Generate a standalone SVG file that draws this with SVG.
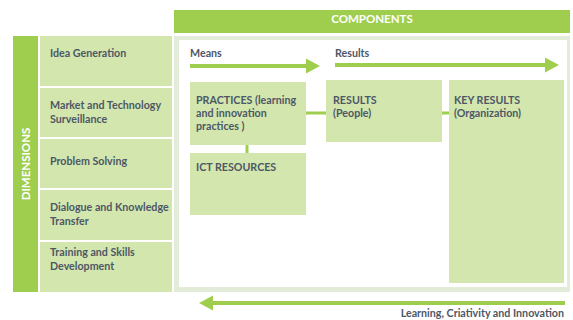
<svg xmlns="http://www.w3.org/2000/svg" width="573" height="320" viewBox="0 0 573 320">
  <defs>
    <style>
      .bar { fill: #9fce4f; }
      .cell { fill: #d3e6ae; }
      .lbl { font-family: Lato, "Open Sans", "Liberation Sans", sans-serif; font-weight: bold; font-size: 10.7px; fill: #4d5766; }
      .hdr { font-family: Lato, "Open Sans", "Liberation Sans", sans-serif; font-weight: bold; font-size: 11.5px; fill: #ffffff; }
      .link { stroke: #9fce4f; stroke-width: 3; fill: none; }
      .flow { stroke: #9fce4f; stroke-width: 4; fill: none; }
    </style>
  </defs>
  <rect width="573" height="320" fill="#ffffff"/>

  <!-- Components header -->
  <g id="components-header">
    <rect class="bar" x="174" y="10" width="396" height="23"/>
    <text class="hdr" x="372" y="22.5" text-anchor="middle">COMPONENTS</text>
  </g>

  <!-- Dimensions header -->
  <g id="dimensions-header">
    <rect class="bar" x="13" y="36" width="25" height="256"/>
    <text class="hdr" transform="translate(29.5 164) rotate(-90)" text-anchor="middle">DIMENSIONS</text>
  </g>

  <!-- Dimension rows -->
  <g id="dim-idea">
    <rect class="cell" x="40" y="36" width="132" height="50"/>
    <text class="lbl" x="50" y="57">Idea Generation</text>
  </g>
  <g id="dim-market">
    <rect class="cell" x="40" y="88" width="132" height="49"/>
    <text class="lbl" x="50" y="109">Market and Technology</text>
    <text class="lbl" x="50" y="123">Surveillance</text>
  </g>
  <g id="dim-problem">
    <rect class="cell" x="40" y="139" width="132" height="49"/>
    <text class="lbl" x="50" y="165">Problem Solving</text>
  </g>
  <g id="dim-dialogue">
    <rect class="cell" x="40" y="190" width="132" height="50"/>
    <text class="lbl" x="50" y="211">Dialogue and Knowledge</text>
    <text class="lbl" x="50" y="225">Transfer</text>
  </g>
  <g id="dim-training">
    <rect class="cell" x="40" y="242" width="132" height="50"/>
    <text class="lbl" x="50" y="256">Training and Skills</text>
    <text class="lbl" x="50" y="270">Development</text>
  </g>

  <!-- Components frame -->
  <g id="components-frame">
    <rect x="174" y="36" width="396" height="256" fill="#e3ecd9"/>
    <rect x="179" y="40" width="388" height="247" fill="#ffffff"/>
  </g>

  <!-- Connectors -->
  <g id="connectors">
    <line class="link" x1="247" y1="145" x2="247" y2="153"/>
    <line class="link" x1="306" y1="113" x2="326" y2="113"/>
    <line class="link" x1="442" y1="113" x2="449" y2="113"/>
    <line class="flow" x1="190" y1="66" x2="308" y2="66"/>
    <polygon class="bar" points="306,58.5 320,66 306,73.5"/>
    <line class="flow" x1="335" y1="65" x2="547" y2="65"/>
    <polygon class="bar" points="545,57.5 559,65 545,72.5"/>
    <line class="flow" x1="211" y1="303" x2="565" y2="303"/>
    <polygon class="bar" points="213,295.5 199,303 213,310.5"/>
  </g>

  <!-- Flow labels -->
  <g id="label-means">
    <text class="lbl" x="190" y="57">Means</text>
  </g>
  <g id="label-results">
    <text class="lbl" x="335" y="57">Results</text>
  </g>
  <g id="label-learning">
    <text class="lbl" x="564" y="317" text-anchor="end">Learning, Criativity and Innovation</text>
  </g>

  <!-- Component boxes -->
  <g id="practices">
    <rect class="cell" x="190" y="82" width="116" height="63"/>
    <text class="lbl" x="196" y="104">PRACTICES (learning</text>
    <text class="lbl" x="196" y="117">and innovation</text>
    <text class="lbl" x="196" y="130">practices )</text>
  </g>
  <g id="ict-resources">
    <rect class="cell" x="190" y="153" width="116" height="62"/>
    <text class="lbl" x="196" y="171">ICT RESOURCES</text>
  </g>
  <g id="results-people">
    <rect class="cell" x="326" y="80" width="116" height="62"/>
    <text class="lbl" x="333" y="104">RESULTS</text>
    <text class="lbl" x="333" y="117">(People)</text>
  </g>
  <g id="key-results">
    <rect class="cell" x="449" y="80" width="115" height="203"/>
    <text class="lbl" x="454" y="104">KEY RESULTS</text>
    <text class="lbl" x="454" y="117">(Organization)</text>
  </g>
</svg>
